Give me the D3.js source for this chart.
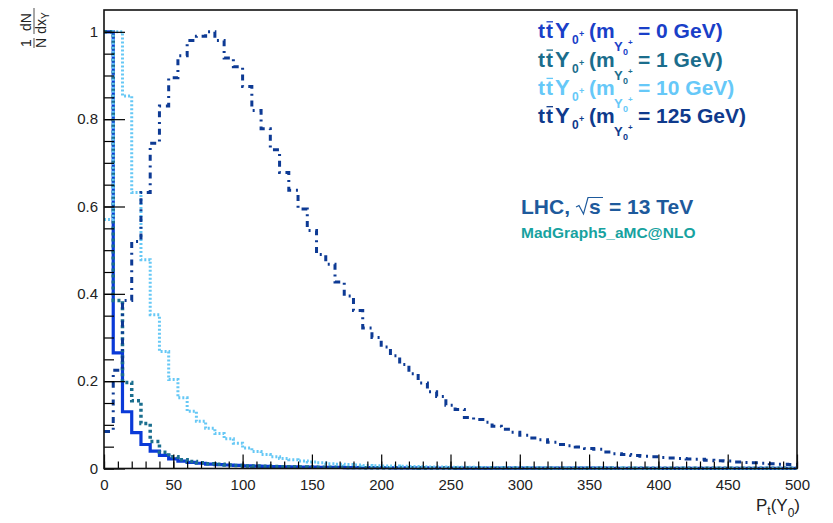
<!DOCTYPE html>
<html><head><meta charset="utf-8">
<script src="https://cdn.jsdelivr.net/npm/d3@7/dist/d3.min.js"></script>
<style>body{margin:0;background:#fff}svg{display:block}</style>
</head><body>
<script>
// ---- data ----
const xMin = 0, xMax = 500, nBins = 75;
const xTickValues = [0, 50, 100, 150, 200, 250, 300, 350, 400, 450, 500];
const xTickLabels = ["0", "50", "100", "150", "200", "250", "300", "350", "400", "450", "500"];
const yTickValues = [0, 0.2, 0.4, 0.6, 0.8, 1];
const yTickLabels = ["0", "0.2", "0.4", "0.6", "0.8", "1"];
const masses = ["0", "1", "10", "125"];

const mass0 = [1.0,0.265,0.13,0.082,0.055,0.040,0.030,0.022,0.017,0.014,
  0.012,0.010,0.009,0.008,0.007,0.006,0.0055,0.005,0.0045,0.004,
  0.0037,0.0034,0.0031,0.0028,0.0026,0.0024,0.0022,0.002,0.0019,0.0018,
  0.0017,0.0016,0.0015,0.0014,0.0013,0.0012,0.0012,0.0011,0.001,0.001,
  0.0009,0.0009,0.0009,0.0009,0.0009,0.0008,0.0008,0.0008,0.0008,0.0008,
  0.0007,0.0007,0.0007,0.0007,0.0007,0.0006,0.0006,0.0006,0.0006,0.0006,
  0.0005,0.0005,0.0005,0.0005,0.0005,0.0004,0.0004,0.0004,0.0004,0.0004,
  0.0004,0.0003,0.0003,0.0003,0.0003];
const mass1 = [1.0,0.385,0.197,0.155,0.103,0.062,0.037,0.027,0.020,0.016,
  0.013,0.011,0.0095,0.008,0.007,0.006,0.0055,0.005,0.0045,0.004,
  0.0038,0.0036,0.0033,0.003,0.0028,0.0026,0.0024,0.0022,0.002,0.0019,
  0.0018,0.0017,0.0016,0.0015,0.0014,0.0013,0.0013,0.0012,0.0011,0.0011,
  0.001,0.001,0.001,0.0009,0.0009,0.0009,0.0008,0.0008,0.0008,0.0008,
  0.0007,0.0007,0.0007,0.0007,0.0007,0.0006,0.0006,0.0006,0.0006,0.0006,
  0.0005,0.0005,0.0005,0.0005,0.0005,0.0005,0.0004,0.0004,0.0004,0.0004,
  0.0004,0.0004,0.0003,0.0003,0.0003];
const mass10 = [0.57,1.0,0.853,0.632,0.478,0.352,0.268,0.204,0.162,0.131,
  0.108,0.092,0.080,0.068,0.058,0.047,0.039,0.032,0.027,0.023,
  0.020,0.017,0.015,0.013,0.011,0.010,0.009,0.008,0.007,0.0065,
  0.006,0.0055,0.005,0.0045,0.004,0.0037,0.0034,0.0031,0.0028,0.0026,
  0.0024,0.0022,0.002,0.0019,0.0018,0.0017,0.0016,0.0015,0.0014,0.0013,
  0.0012,0.0012,0.0011,0.0011,0.001,0.001,0.0009,0.0009,0.0008,0.0008,
  0.0008,0.0007,0.0007,0.0007,0.0006,0.0006,0.0006,0.0006,0.0005,0.0005,
  0.0005,0.0005,0.0005,0.0004,0.0004];
const mass125 = [0.085,0.225,0.385,0.52,0.632,0.745,0.83,0.895,0.945,0.98,
  0.99,1.0,0.98,0.94,0.92,0.875,0.82,0.778,0.73,0.678,
  0.637,0.594,0.545,0.49,0.468,0.427,0.395,0.362,0.322,0.30,
  0.278,0.258,0.238,0.217,0.196,0.176,0.165,0.145,0.135,0.117,
  0.112,0.106,0.097,0.09,0.083,0.076,0.07,0.066,0.06,0.055,
  0.052,0.049,0.046,0.044,0.038,0.034,0.032,0.030,0.028,0.027,
  0.025,0.024,0.023,0.022,0.021,0.019,0.018,0.017,0.015,0.014,
  0.013,0.012,0.011,0.010,0.009];

// ---- styles ----
const seriesList = [
  {vals: mass0,   color: "#0a3ad8", width: 3.2, dash: null},
  {vals: mass1,   color: "#1a6e8e", width: 3.5, dash: "3,3"},
  {vals: mass10,  color: "#66c8f5", width: 3,   dash: "2,2"},
  {vals: mass125, color: "#0d3a94", width: 3,   dash: "6,4.8,2,4.8"}
];
const legendColors = ["#1a3fc8", "#1b6d8c", "#66c8f8", "#0f3a8c"];

const W = 833, H = 523;
const svg = d3.select("body").append("svg").attr("width", W).attr("height", H)
  .style("font-family", "'Liberation Sans', Arial, sans-serif");

const x = d3.scaleLinear().domain([xMin, xMax]).range([104, 797]);
const y = d3.scaleLinear().domain([0, 1.05]).range([468.5, 10]);

// histograms
const binW = (xMax - xMin) / nBins;
const line = d3.line().x(d => x(d[0])).y(d => y(d[1]));
seriesList.forEach(s => {
  const pts = [];
  s.vals.forEach((v, i) => {
    pts.push([xMin + i * binW, v]);
    pts.push([xMin + (i + 1) * binW, v]);
  });
  const p = svg.append("path").datum(pts).attr("d", line)
    .attr("fill", "none").attr("stroke", s.color).attr("stroke-width", s.width)
    .attr("stroke-linejoin", "miter");
  if (s.dash) p.attr("stroke-dasharray", s.dash);
});

// axes
const xMinor = d3.range(xMin, xMax + 1, 10);
const yMinor = d3.range(0, 21).map(i => i * 0.05).filter(v => v <= 1.0001);

const gx = svg.append("g").attr("transform", `translate(0,${y(0)})`)
  .call(d3.axisBottom(x).tickValues(xTickValues).tickSizeInner(-14).tickSizeOuter(0)
    .tickPadding(11).tickFormat((d, i) => xTickLabels[i]));
gx.select(".domain").remove();
const gxm = svg.append("g").attr("transform", `translate(0,${y(0)})`)
  .call(d3.axisBottom(x).tickValues(xMinor).tickSizeInner(-7).tickSizeOuter(0).tickFormat(""));
gxm.select(".domain").remove();

const gy = svg.append("g").attr("transform", `translate(${x(0)},0)`)
  .call(d3.axisLeft(y).tickValues(yTickValues).tickSizeInner(-21).tickSizeOuter(0)
    .tickPadding(6).tickFormat((d, i) => yTickLabels[i]));
gy.select(".domain").remove();
const gym = svg.append("g").attr("transform", `translate(${x(0)},0)`)
  .call(d3.axisLeft(y).tickValues(yMinor).tickSizeInner(-10).tickSizeOuter(0).tickFormat(""));
gym.select(".domain").remove();

svg.selectAll(".tick line").attr("stroke", "#000").attr("stroke-width", 1.2);
svg.selectAll(".tick text").attr("font-size", 15).attr("fill", "#222")
  .attr("font-family", "'Liberation Sans', Arial, sans-serif");

// frame
svg.append("rect").attr("x", x(xMin)).attr("y", y(1.05))
  .attr("width", x(xMax) - x(xMin)).attr("height", y(0) - y(1.05))
  .attr("fill", "none").attr("stroke", "#111").attr("stroke-width", 1.6);

// x title
const xt = svg.append("text").attr("x", 800).attr("y", 511).attr("text-anchor", "end")
  .attr("font-size", 17).attr("fill", "#222");
xt.append("tspan").text("P");
xt.append("tspan").attr("font-size", 12).attr("dy", 4).text("t");
xt.append("tspan").attr("dy", -4).text("(Y");
xt.append("tspan").attr("font-size", 12).attr("dy", 6).text("0");
xt.append("tspan").attr("dy", -6).text(")");

// y title (rotated fractions)
const yt = svg.append("g").attr("transform", "translate(34,51) rotate(-90)")
  .attr("font-size", 14).attr("fill", "#222");
yt.append("text").attr("x", 8).attr("y", -3).attr("text-anchor", "middle").text("1");
yt.append("text").attr("x", 8).attr("y", 12).attr("text-anchor", "middle").text("N");
yt.append("line").attr("x1", 3).attr("x2", 13).attr("y1", 0).attr("y2", 0).attr("stroke", "#222").attr("stroke-width", 0.8);
yt.append("text").attr("x", 29).attr("y", -3).attr("text-anchor", "middle").text("dN");
const dx = yt.append("text").attr("x", 28).attr("y", 12).attr("text-anchor", "middle");
dx.append("tspan").text("dx");
dx.append("tspan").attr("font-size", 10).attr("dy", 3).text("Y");
yt.append("line").attr("x1", 17).attr("x2", 43).attr("y1", 0).attr("y2", 0).attr("stroke", "#222").attr("stroke-width", 0.8);

// legend
masses.forEach((m, i) => {
  const B = 38.3 + 28.3 * i;
  const t = svg.append("text").attr("fill", legendColors[i]).attr("font-weight", "bold").attr("font-size", 21);
  t.append("tspan").attr("x", 538).attr("y", B).text("t");
  t.append("tspan").attr("x", 546).attr("y", B).text("t");
  t.append("tspan").attr("x", 555).attr("y", B).attr("font-size", 22).text("Y");
  t.append("tspan").attr("x", 572).attr("y", B + 6).attr("font-size", 12).text("0");
  t.append("tspan").attr("x", 579).attr("y", B - 1).attr("font-size", 9).text("+");
  t.append("tspan").attr("x", 589).attr("y", B).text("(m");
  t.append("tspan").attr("x", 614).attr("y", B + 13).attr("font-size", 13).text("Y");
  t.append("tspan").attr("x", 623).attr("y", B + 17).attr("font-size", 9).text("0");
  t.append("tspan").attr("x", 628).attr("y", B + 7).attr("font-size", 8).text("+");
  t.append("tspan").attr("x", 638).attr("y", B).text(`= ${m} GeV)`);
  const ext = t.node().getExtentOfChar(1);
  svg.append("line").attr("x1", ext.x + 0.5).attr("x2", ext.x + ext.width)
    .attr("y1", B - 16.5).attr("y2", B - 16.5)
    .attr("stroke", legendColors[i]).attr("stroke-width", 1.3);
});

// LHC label
const lhcColor = "#1e5a9c";
svg.append("text").attr("x", 521).attr("y", 214).attr("font-weight", "bold").attr("font-size", 21)
  .attr("fill", lhcColor).text("LHC,");
svg.append("path").attr("d", "M576,207 L579,205.5 L583.5,214 L588,197.5 L603,197.5")
  .attr("fill", "none").attr("stroke", lhcColor).attr("stroke-width", 1.2);
svg.append("text").attr("x", 589).attr("y", 214).attr("font-weight", "bold").attr("font-size", 21)
  .attr("fill", lhcColor).text("s");
svg.append("text").attr("x", 609).attr("y", 214).attr("font-weight", "bold").attr("font-size", 21)
  .attr("fill", lhcColor).text("= 13 TeV");
svg.append("text").attr("x", 521).attr("y", 238).attr("font-weight", "bold").attr("font-size", 15.5)
  .attr("fill", "#17a2a0").text("MadGraph5_aMC@NLO");
</script>
</body></html>
